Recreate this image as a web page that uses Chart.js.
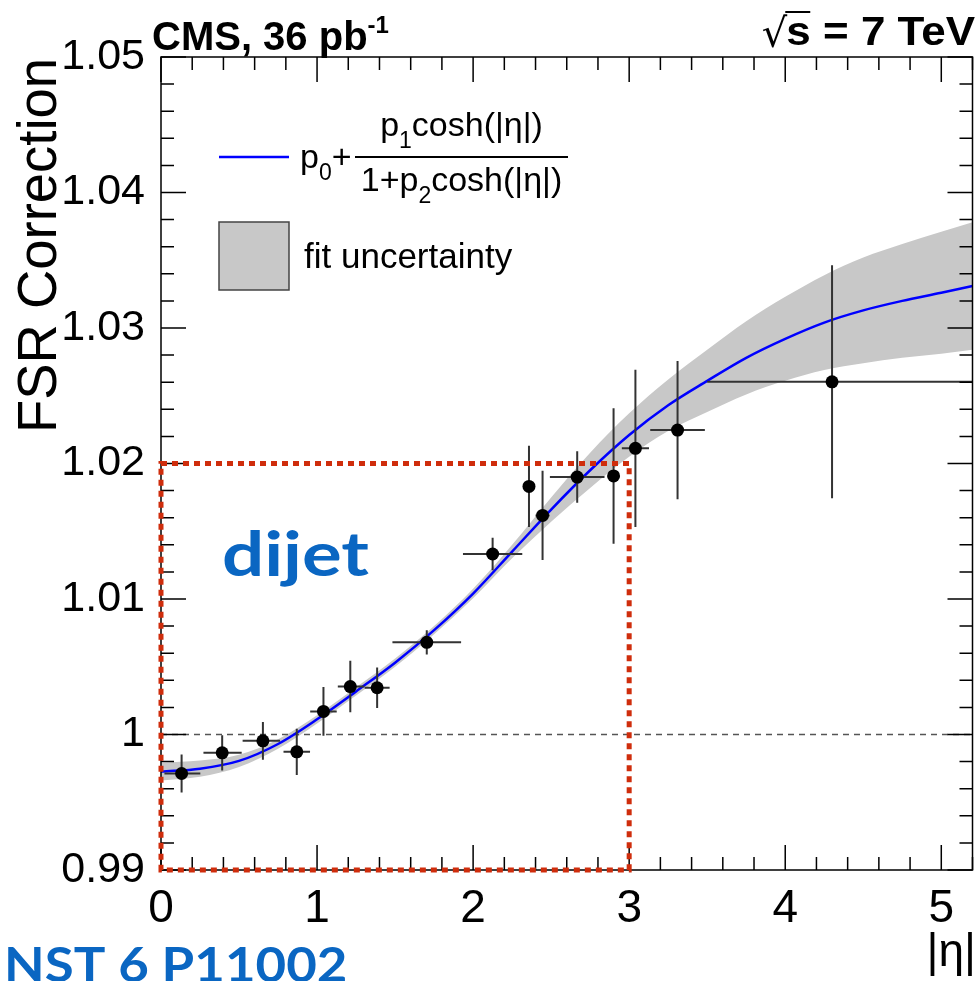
<!DOCTYPE html>
<html>
<head>
<meta charset="utf-8">
<script src="https://cdn.jsdelivr.net/npm/chart.js@4.4.0/dist/chart.umd.min.js"></script>
<style>
  html, body { margin: 0; padding: 0; background: #ffffff; }
</style>
</head>
<body>
<canvas id="fsrChart" width="979" height="981"></canvas>
<script>
// measured points: |eta| position, FSR correction, errors
const etaPoints  = [0.132, 0.392, 0.653, 0.870, 1.041, 1.213, 1.385, 1.703, 2.125, 2.358, 2.445, 2.667, 2.900, 3.040, 3.310, 4.300];
const fsrValues  = [0.99712, 0.99865, 0.99953, 0.99872, 1.00170, 1.00354, 1.00345, 1.00680, 1.01332, 1.01831, 1.01617, 1.01900, 1.01908, 1.02112, 1.02247, 1.02603];
const fsrErr     = [0.0014, 0.0013, 0.0014, 0.0017, 0.0018, 0.0019, 0.0015, 0.0009, 0.0012, 0.0030, 0.0033, 0.0019, 0.0050, 0.0058, 0.0051, 0.0086];
const etaErrLow  = [0.11, 0.12, 0.13, 0.085, 0.085, 0.08, 0.08, 0.22, 0.19, 0.03, 0.045, 0.175, 0.03, 0.087, 0.175, 0.80];
const etaErrHigh = [0.12, 0.125, 0.11, 0.085, 0.085, 0.09, 0.08, 0.22, 0.19, 0.03, 0.045, 0.175, 0.03, 0.087, 0.175, 0.90];

// fit curve and its uncertainty band
const fitEta    = [0, 0.25, 0.5, 0.75, 1.0, 1.25, 1.5, 1.75, 2.0, 2.25, 2.5, 2.75, 3.0, 3.25, 3.5, 3.75, 4.0, 4.25, 4.5, 4.75, 5.0, 5.2];
const fitCurve  = [0.99726, 0.99748, 0.99805, 0.99930, 1.00112, 1.00318, 1.00530, 1.00770, 1.01040, 1.01350, 1.01660, 1.01950, 1.02210, 1.02430, 1.02610, 1.02780, 1.02920, 1.03040, 1.03130, 1.03200, 1.03260, 1.03310];
const bandUpper = [0.99791, 0.99808, 0.99850, 0.99965, 1.00142, 1.00348, 1.00560, 1.00800, 1.01075, 1.01400, 1.01750, 1.02080, 1.02370, 1.02620, 1.02840, 1.03050, 1.03230, 1.03390, 1.03520, 1.03620, 1.03710, 1.03780];
const bandLower = [0.99661, 0.99688, 0.99760, 0.99895, 1.00082, 1.00288, 1.00500, 1.00740, 1.01005, 1.01300, 1.01570, 1.01820, 1.02050, 1.02240, 1.02380, 1.02510, 1.02610, 1.02690, 1.02740, 1.02780, 1.02810, 1.02840];

const xTickValues = [0, 1, 2, 3, 4, 5];
const yTickValues = [0.99, 1.00, 1.01, 1.02, 1.03, 1.04, 1.05];

const toXY = (xs, ys) => xs.map((v, i) => ({ x: v, y: ys[i] }));

// draws a run of [text, fontSize, yShift] pieces, returns end x
function drawRun(ctx, x, base, parts, weight, family, measureOnly) {
    let cx = x;
    parts.forEach(([txt, size, dy]) => {
        ctx.font = weight + ' ' + size + 'px ' + family;
        if (!measureOnly) ctx.fillText(txt, cx, base + dy);
        cx += ctx.measureText(txt).width;
    });
    return cx;
}

// text squeezed/stretched horizontally
function drawStretched(ctx, txt, x, y, sx) {
    ctx.save();
    ctx.translate(x, y);
    ctx.scale(sx, 1);
    ctx.fillText(txt, 0, 0);
    ctx.restore();
}

const fsrDecor = {
    id: 'fsrDecor',
    beforeDatasetDraw(chart, args) {
        const ctx = chart.ctx, xs = chart.scales.x, ys = chart.scales.y;
        if (args.index === 1) {
            // dashed line at 1
            const py = ys.getPixelForValue(1);
            ctx.save();
            ctx.strokeStyle = '#555555';
            ctx.lineWidth = 1.5;
            ctx.setLineDash([6, 5]);
            ctx.beginPath();
            ctx.moveTo(xs.left, py);
            ctx.lineTo(xs.right, py);
            ctx.stroke();
            ctx.restore();
        }
        if (args.index === 0) {
            // error bars under the markers
            ctx.save();
            ctx.strokeStyle = '#333333';
            ctx.lineWidth = 2;
            etaPoints.forEach((eta, i) => {
                const px = xs.getPixelForValue(eta);
                const py = ys.getPixelForValue(fsrValues[i]);
                const xl = xs.getPixelForValue(Math.max(xs.min, eta - etaErrLow[i]));
                const xr = xs.getPixelForValue(Math.min(xs.max, eta + etaErrHigh[i]));
                ctx.beginPath();
                ctx.moveTo(xl, py); ctx.lineTo(xr, py);
                ctx.moveTo(px, ys.getPixelForValue(fsrValues[i] - fsrErr[i]));
                ctx.lineTo(px, ys.getPixelForValue(fsrValues[i] + fsrErr[i]));
                ctx.stroke();
            });
            ctx.restore();
        }
    },
    afterDraw(chart) {
        const ctx = chart.ctx, xs = chart.scales.x, ys = chart.scales.y;
        const a = chart.chartArea;
        const fam = '"Liberation Sans"';
        ctx.save();

        // frame + inward ticks on all sides
        ctx.strokeStyle = '#000000';
        ctx.lineWidth = 1.5;
        ctx.strokeRect(a.left, a.top, a.right - a.left, a.bottom - a.top);
        ctx.beginPath();
        for (let k = 0; k <= 26; k++) {
            const v = k * 0.2;
            if (v > xs.max + 1e-9) break;
            const len = (k % 5 === 0) ? 25 : 13;
            const px = xs.getPixelForValue(v);
            ctx.moveTo(px, a.bottom); ctx.lineTo(px, a.bottom - len);
            ctx.moveTo(px, a.top); ctx.lineTo(px, a.top + len);
        }
        for (let k = 0; k <= 30; k++) {
            const v = 0.99 + k * 0.002;
            const len = (k % 5 === 0) ? 25 : 13;
            const py = ys.getPixelForValue(v);
            ctx.moveTo(a.left, py); ctx.lineTo(a.left + len, py);
            ctx.moveTo(a.right, py); ctx.lineTo(a.right - len, py);
        }
        ctx.stroke();

        // header
        ctx.fillStyle = '#000000';
        ctx.textAlign = 'left';
        ctx.textBaseline = 'alphabetic';
        drawRun(ctx, 152, 50, [['CMS, 36 pb', 40, 0], ['-1', 24, -17]], 'bold', fam);
        ctx.font = 'bold 40px ' + fam;
        const rest = 's = 7 TeV';
        const restW = ctx.measureText(rest).width * 1.1;
        const sx = 975 - restW;
        drawStretched(ctx, rest, sx, 45, 1.1);
        ctx.font = '40px "DejaVu Sans"';
        const rootW = ctx.measureText('\u221A').width;
        ctx.fillText('\u221A', sx - rootW + 1, 47);
        ctx.lineWidth = 2;
        ctx.beginPath();
        ctx.moveTo(sx - 1, 12); ctx.lineTo(sx + 24, 12);
        ctx.stroke();

        // legend: fit line + formula
        ctx.strokeStyle = '#0000ff';
        ctx.lineWidth = 2.5;
        ctx.beginPath();
        ctx.moveTo(219, 157); ctx.lineTo(289, 157);
        ctx.stroke();
        drawRun(ctx, 300, 168, [['p', 34, 0], ['0', 23, 12], ['+', 34, 0]], 'normal', fam);
        ctx.strokeStyle = '#000000';
        ctx.lineWidth = 2;
        ctx.beginPath();
        ctx.moveTo(355, 157); ctx.lineTo(568, 157);
        ctx.stroke();
        const num = [['p', 34, 0], ['1', 23, 12], ['cosh(|\u03B7|)', 34, 0]];
        const den = [['1+p', 34, 0], ['2', 23, 12], ['cosh(|\u03B7|)', 34, 0]];
        const numW = drawRun(ctx, 0, 0, num, 'normal', fam, true);
        const denW = drawRun(ctx, 0, 0, den, 'normal', fam, true);
        drawRun(ctx, 461.5 - numW / 2, 136, num, 'normal', fam);
        drawRun(ctx, 461.5 - denW / 2, 191, den, 'normal', fam);

        // legend: band box
        ctx.fillStyle = '#c8c8c8';
        ctx.fillRect(219, 222, 70, 68);
        ctx.strokeStyle = '#444444';
        ctx.lineWidth = 1.5;
        ctx.strokeRect(219, 222, 70, 68);
        ctx.fillStyle = '#000000';
        ctx.font = '35px ' + fam;
        ctx.fillText('fit uncertainty', 304, 268);

        // axis titles
        ctx.font = '56px ' + fam;
        const titleW = ctx.measureText('FSR Correction').width;
        ctx.save();
        ctx.translate(56, 433);
        ctx.rotate(-Math.PI / 2);
        ctx.scale(375 / titleW, 1);
        ctx.textAlign = 'left';
        ctx.fillText('FSR Correction', 0, 0);
        ctx.restore();
        ctx.font = '46px ' + fam;
        ctx.textAlign = 'right';
        ctx.fillText('|\u03B7|', 976, 966);

        // red dotted box over the |eta| < 3 region
        ctx.strokeStyle = '#cf2d0c';
        ctx.lineWidth = 5;
        ctx.setLineDash([6, 5]);
        const bx0 = xs.getPixelForValue(0), bx1 = xs.getPixelForValue(3);
        const by0 = ys.getPixelForValue(1.02), by1 = ys.getPixelForValue(0.99);
        ctx.strokeRect(bx0, by0, bx1 - bx0, by1 - by0);
        ctx.setLineDash([]);

        // blue annotations
        ctx.fillStyle = '#0a66c2';
        ctx.textAlign = 'left';
        ctx.font = 'bold 62px Lato';
        drawStretched(ctx, 'dijet', 222, 576, 1.2);
        ctx.font = 'bold 48px Lato';
        drawStretched(ctx, 'NST 6 P11002', 4, 982, 1.1);

        ctx.restore();
    }
};

const ctx = document.getElementById('fsrChart').getContext('2d');
const fsrChart = new Chart(ctx, {
    type: 'line',
    data: {
        datasets: [{
            label: 'data',
            data: toXY(etaPoints, fsrValues),
            showLine: false,
            pointRadius: 6.5,
            pointBackgroundColor: '#000000',
            pointBorderColor: '#000000',
            pointBorderWidth: 0
        }, {
            label: 'fit',
            data: toXY(fitEta, fitCurve),
            borderColor: '#0000ff',
            borderWidth: 2.5,
            pointRadius: 0,
            cubicInterpolationMode: 'monotone',
            fill: false
        }, {
            label: 'band up',
            data: toXY(fitEta, bandUpper),
            borderWidth: 0,
            borderColor: 'rgba(0,0,0,0)',
            backgroundColor: '#c8c8c8',
            pointRadius: 0,
            cubicInterpolationMode: 'monotone',
            fill: '+1'
        }, {
            label: 'band low',
            data: toXY(fitEta, bandLower),
            borderWidth: 0,
            borderColor: 'rgba(0,0,0,0)',
            pointRadius: 0,
            cubicInterpolationMode: 'monotone',
            fill: false
        }]
    },
    options: {
        responsive: false,
        animation: false,
        devicePixelRatio: 1,
        layout: { padding: { top: 57, right: 2, left: 0, bottom: 0 } },
        plugins: {
            legend: { display: false },
            tooltip: { enabled: false }
        },
        scales: {
            x: {
                type: 'linear',
                min: 0,
                max: 5.2,
                grid: { display: false },
                border: { display: false },
                afterBuildTicks: (s) => { s.ticks = xTickValues.map(v => ({ value: v })); },
                afterFit: (s) => { s.height = 111; },
                ticks: {
                    color: '#000000',
                    padding: 4,
                    autoSkip: false,
                    maxRotation: 0,
                    font: { family: 'Liberation Sans', size: 46 }
                }
            },
            y: {
                type: 'linear',
                min: 0.99,
                max: 1.05,
                grid: { display: false },
                border: { display: false },
                afterBuildTicks: (s) => { s.ticks = yTickValues.map(v => ({ value: v })); },
                afterFit: (s) => { s.width = 161; },
                ticks: {
                    color: '#000000',
                    padding: 8,
                    autoSkip: false,
                    font: { family: 'Liberation Sans', size: 43 },
                    callback: (v) => String(Math.round(v * 100) / 100)
                }
            }
        }
    },
    plugins: [fsrDecor]
});
</script>
</body>
</html>
